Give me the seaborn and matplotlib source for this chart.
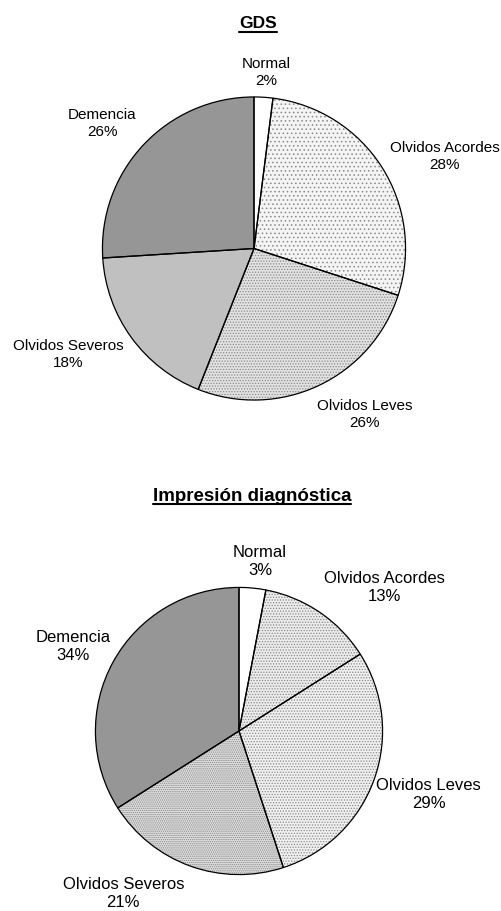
import matplotlib
matplotlib.use("Agg")
import matplotlib.pyplot as plt
import seaborn as sns
from matplotlib.lines import Line2D

sns.set_theme(style="white")
plt.rcParams['font.family'] = ['Liberation Sans', 'DejaVu Sans']
plt.rcParams['hatch.linewidth'] = 0.6
plt.rcParams['text.color'] = 'black'

# ---- data ----
categories = ["Normal", "Olvidos Acordes", "Olvidos Leves", "Olvidos Severos", "Demencia"]
gds_values = [2, 28, 26, 18, 26]
imp_values = [3, 13, 29, 21, 34]
titles = ["GDS", "Impresión diagnóstica"]

# ---- styles ----
gds_faces = ["#ffffff", "#f4f4f4", "#e2e2e2", "#c0c0c0", "#969696"]
gds_hatch = ["", "....", "......", "", ""]
imp_faces = ["#ffffff", "#ececec", "#f0f0f0", "#dcdcdc", "#969696"]
imp_hatch = ["", "......", "......", "........", ""]

# label positions relative to pie center in radius units
gds_lab = [(0.079, 1.161), (1.257, 0.609), (0.730, -1.095), (-1.224, -0.701), (-1.0, 0.826)]
imp_lab = [(0.146, 1.181), (1.014, 1.0), (1.32, -0.444), (-0.806, -1.132), (-1.153, 0.590)]

W, H = 501, 911
fig = plt.figure(figsize=(W / 100, H / 100), dpi=100)
fig.patch.set_facecolor("white")


def make_ax(cx, cy, r):
    return fig.add_axes([(cx - r) / W, (H - cy - r) / H, 2 * r / W, 2 * r / H])


def draw_pie(ax, values, faces, hatches, labpos, fs):
    wedges, _ = ax.pie(values, colors=faces, startangle=90, counterclock=False,
                       radius=1.0, wedgeprops=dict(linewidth=0, edgecolor="#8a8a8a"))
    for w, h in zip(wedges, hatches):
        if h:
            w.set_hatch(h)
    ax.pie(values, startangle=90, counterclock=False, radius=1.0,
           wedgeprops=dict(fill=False, linewidth=0.9, edgecolor="black"))
    ax.set_xlim(-1.003, 1.003)
    ax.set_ylim(-1.003, 1.003)
    ax.set_aspect("equal")
    ax.axis("off")
    for cat, v, (x, y) in zip(categories, values, labpos):
        ax.text(x, y, f"{cat}\n{v}%", ha="center", va="center", fontsize=fs,
                color="black", linespacing=1.28, clip_on=False)


ax1 = make_ax(254, 248.5, 152)
draw_pie(ax1, gds_values, gds_faces, gds_hatch, gds_lab, 11)
ax2 = make_ax(239, 731, 144)
draw_pie(ax2, imp_values, imp_faces, imp_hatch, imp_lab, 12)

t1 = fig.text(258 / W, 1 - 28 / H, titles[0], ha="center", va="baseline",
              fontsize=12.5, fontweight="bold", color="black")
t2 = fig.text(252 / W, 1 - 501 / H, titles[1], ha="center", va="baseline",
              fontsize=13.5, fontweight="bold", color="black")

fig.canvas.draw()
renderer = fig.canvas.get_renderer()
for t, base in ((t1, 28), (t2, 501)):
    bb = t.get_window_extent(renderer)
    y = 1 - (base + 3.5) / H
    fig.add_artist(Line2D([bb.x0 / W, bb.x1 / W], [y, y], color="black",
                          linewidth=1.5, transform=fig.transFigure))

fig.savefig("out.png", dpi=100, facecolor="white")
